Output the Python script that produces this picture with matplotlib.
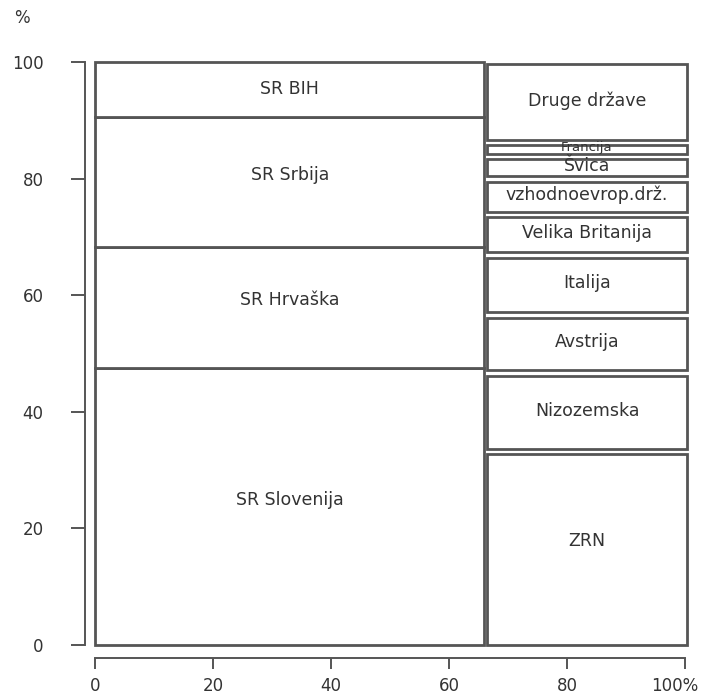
import matplotlib.pyplot as plt
from matplotlib.patches import Rectangle
from matplotlib.transforms import ScaledTranslation

# column widths (share of total, %)
groups = ["domace", "tuje"]
group_widths = [66, 34]

# left column: domestic, bottom to top (%)
dom_labels = ["SR Slovenija", "SR Hrvaška", "SR Srbija", "SR BIH"]
dom_values = [47.5, 20.8, 22.3, 9.4]

# right column: foreign, bottom to top (%)
for_labels = ["ZRN", "Nizozemska", "Avstrija", "Italija", "Velika Britanija",
              "vzhodnoevrop.drž.", "Švica", "Francija", "Druge države"]
for_values = [33.2, 13.4, 10.0, 10.25, 7.0, 6.05, 3.9, 2.4, 13.8]

xticks = [0, 20, 40, 60, 80, 100]
xticklabels = ["0", "20", "40", "60", "80", "100%"]
yticks = [0, 20, 40, 60, 80, 100]

EDGE = "#555555"
TXT = "#333333"
plt.rcParams["font.family"] = ["DejaVu Sans"]

fig = plt.figure(figsize=(7.03, 6.98), dpi=100)
ax = fig.add_axes([95 / 703, 53 / 698, 590 / 703, 583 / 698])
ax.set_xlim(0, 100)
ax.set_ylim(0, 100)

# left column – boxes touch each other
x0, w0 = 0, group_widths[0]
y = 0
for lab, v in zip(dom_labels, dom_values):
    ax.add_patch(Rectangle((x0, y), w0, v, facecolor="white", edgecolor=EDGE,
                           linewidth=2.0, clip_on=False))
    off = 0 if v < 12 else 1.2
    ax.text(x0 + w0 / 2, y + v / 2 + off, lab, ha="center", va="center",
            fontsize=12.5, color=TXT)
    y += v

# right column – small gaps between boxes (none at the outer ends)
x1 = group_widths[0] + 0.5
w1 = group_widths[1] - 0.2
gap = 1.0
n = len(for_values)
y = 0
for i, (lab, v) in enumerate(zip(for_labels, for_values)):
    lo = y + (gap / 2 if i > 0 else 0)
    hi = y + v - (gap / 2 if i < n - 1 else 0.3)
    ax.add_patch(Rectangle((x1, lo), w1, hi - lo, facecolor="white",
                           edgecolor=EDGE, linewidth=2.0, clip_on=False))
    fs = 9.5 if v < 3 else 12.5
    off = 1.2 if v > 20 else 0.3
    ax.text(x1 + w1 / 2, y + v / 2 + off, lab, ha="center", va="center",
            fontsize=fs, color=TXT)
    y += v

# axes as detached lines
for s in ["top", "right"]:
    ax.spines[s].set_visible(False)
ax.spines["left"].set_position(("outward", 7))
ax.spines["bottom"].set_position(("outward", 9))
ax.spines["left"].set_bounds(0, 100)
ax.spines["bottom"].set_bounds(0, 100)
for s in ["left", "bottom"]:
    ax.spines[s].set_color(EDGE)
    ax.spines[s].set_linewidth(1.4)

ax.set_xticks(xticks, xticklabels)
ax.set_yticks(yticks)
ax.tick_params(axis="y", direction="out", length=10, width=1.4, color=EDGE,
               pad=20, labelsize=12, labelcolor=TXT)
ax.tick_params(axis="x", direction="out", length=8, width=1.4, color=EDGE,
               pad=6, labelsize=12, labelcolor=TXT)

# pull the "100%" label a bit left so it stays inside the figure
last = ax.get_xticklabels()[-1]
last.set_transform(last.get_transform() + ScaledTranslation(-10 / 100, 0, fig.dpi_scale_trans))

fig.text(22 / 703, 1 - 18 / 698, "%", ha="center", va="center", fontsize=12, color=TXT)

fig.savefig("out.png", dpi=100, facecolor="white")
